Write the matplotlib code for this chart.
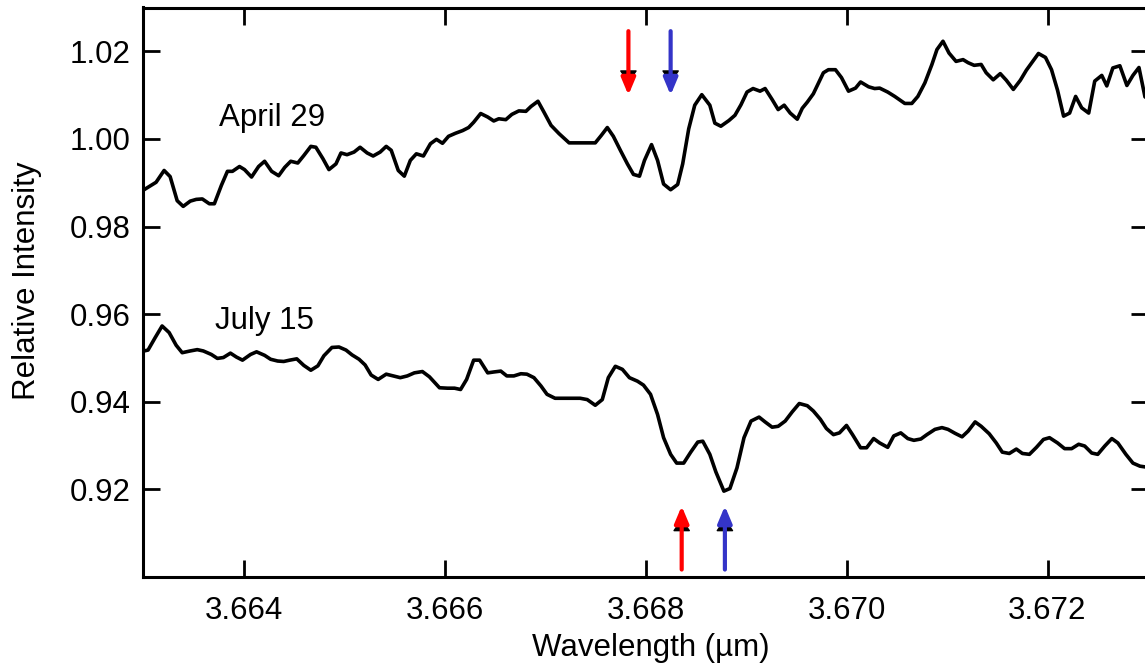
import matplotlib
matplotlib.use("Agg")
import matplotlib.pyplot as plt

plt.rcParams['font.family'] = ['Liberation Sans', 'DejaVu Sans']

# April 29 spectrum
apr_wl = [3.66301, 3.66313, 3.66321, 3.66327, 3.66334, 3.66340, 3.66347, 3.66353, 3.66359, 3.66366,
          3.66371, 3.66378, 3.66384, 3.66389, 3.66396, 3.66401, 3.66408, 3.66415, 3.66421, 3.66428,
          3.66435, 3.66441, 3.66447, 3.66454, 3.66460, 3.66467, 3.66472, 3.66479, 3.66485, 3.66492,
          3.66497, 3.66503, 3.66510, 3.66516, 3.66523, 3.66529, 3.66536, 3.66542, 3.66547, 3.66554,
          3.66560, 3.66566, 3.66572, 3.66579, 3.66586, 3.66592, 3.66598, 3.66604, 3.66611, 3.66618,
          3.66624, 3.66629, 3.66636, 3.66643, 3.66649, 3.66654, 3.66661, 3.66667, 3.66674, 3.66681,
          3.66686, 3.66693, 3.66699, 3.66706, 3.66714, 3.66724, 3.66735, 3.66750, 3.66756, 3.66762,
          3.66768, 3.66775, 3.66782, 3.66788, 3.66794, 3.66799, 3.66806, 3.66812, 3.66818, 3.66825,
          3.66832, 3.66837, 3.66843, 3.66849, 3.66856, 3.66864, 3.66869, 3.66875, 3.66883, 3.66889,
          3.66895, 3.66901, 3.66907, 3.66914, 3.66919, 3.66926, 3.66932, 3.66938, 3.66944, 3.66951,
          3.66956, 3.66961, 3.66967, 3.66977, 3.66982, 3.66989, 3.66995, 3.67002, 3.67009, 3.67014,
          3.67022, 3.67028, 3.67033, 3.67041, 3.67048, 3.67058, 3.67065, 3.67071, 3.67078, 3.67085,
          3.67090, 3.67096, 3.67102, 3.67109, 3.67116, 3.67121, 3.67127, 3.67134, 3.67139, 3.67146,
          3.67153, 3.67159, 3.67166, 3.67173, 3.67179, 3.67185, 3.67191, 3.67198, 3.67204, 3.67210,
          3.67216, 3.67222, 3.67228, 3.67234, 3.67241, 3.67247, 3.67254, 3.67259, 3.67265, 3.67272,
          3.67279, 3.67285, 3.67291, 3.67297, 3.67303]
apr_int = [0.9884, 0.9901, 0.9928, 0.9914, 0.9859, 0.9846, 0.9858, 0.9862, 0.9863, 0.9852,
           0.9852, 0.9894, 0.9926, 0.9926, 0.9937, 0.9930, 0.9913, 0.9937, 0.9949, 0.9926,
           0.9916, 0.9935, 0.9949, 0.9945, 0.9962, 0.9983, 0.9981, 0.9955, 0.9930, 0.9943,
           0.9968, 0.9964, 0.9970, 0.9981, 0.9968, 0.9961, 0.9970, 0.9983, 0.9974, 0.9928,
           0.9915, 0.9951, 0.9966, 0.9961, 0.9989, 0.9999, 0.9990, 1.0006, 1.0013, 1.0019,
           1.0026, 1.0038, 1.0058, 1.0050, 1.0041, 1.0046, 1.0044, 1.0056, 1.0064, 1.0063,
           1.0074, 1.0086, 1.0061, 1.0031, 1.0012, 0.9991, 0.9991, 0.9991, 1.0008, 1.0026,
           1.0006, 0.9974, 0.9943, 0.9919, 0.9915, 0.9951, 0.9987, 0.9951, 0.9897, 0.9884,
           0.9896, 0.9943, 1.0023, 1.0077, 1.0101, 1.0077, 1.0036, 1.0029, 1.0042, 1.0054,
           1.0078, 1.0107, 1.0115, 1.0109, 1.0115, 1.0090, 1.0067, 1.0077, 1.0059, 1.0045,
           1.0070, 1.0084, 1.0103, 1.0151, 1.0158, 1.0158, 1.0140, 1.0109, 1.0116, 1.0130,
           1.0119, 1.0115, 1.0116, 1.0107, 1.0097, 1.0081, 1.0081, 1.0097, 1.0128, 1.0170,
           1.0204, 1.0223, 1.0196, 1.0177, 1.0181, 1.0174, 1.0168, 1.0170, 1.0151, 1.0135,
           1.0149, 1.0134, 1.0113, 1.0134, 1.0157, 1.0176, 1.0195, 1.0186, 1.0158, 1.0111,
           1.0052, 1.0059, 1.0097, 1.0071, 1.0059, 1.0132, 1.0145, 1.0121, 1.0162, 1.0167,
           1.0122, 1.0145, 1.0163, 1.0096, 1.0088]

# July 15 spectrum
jul_wl = [3.66301, 3.66305, 3.66312, 3.66319, 3.66326, 3.66333, 3.66339, 3.66347, 3.66354, 3.66360,
          3.66368, 3.66374, 3.66380, 3.66387, 3.66393, 3.66399, 3.66407, 3.66413, 3.66421, 3.66427,
          3.66434, 3.66440, 3.66446, 3.66453, 3.66460, 3.66467, 3.66474, 3.66480, 3.66488, 3.66495,
          3.66502, 3.66508, 3.66515, 3.66521, 3.66527, 3.66534, 3.66542, 3.66549, 3.66556, 3.66563,
          3.66570, 3.66578, 3.66585, 3.66595, 3.66603, 3.66610, 3.66616, 3.66622, 3.66629, 3.66635,
          3.66643, 3.66649, 3.66656, 3.66662, 3.66669, 3.66676, 3.66682, 3.66689, 3.66696, 3.66702,
          3.66710, 3.66722, 3.66735, 3.66742, 3.66750, 3.66757, 3.66763, 3.66770, 3.66777, 3.66784,
          3.66792, 3.66798, 3.66805, 3.66812, 3.66818, 3.66825, 3.66831, 3.66838, 3.66845, 3.66852,
          3.66857, 3.66864, 3.66870, 3.66878, 3.66884, 3.66891, 3.66898, 3.66905, 3.66913, 3.66919,
          3.66926, 3.66932, 3.66939, 3.66946, 3.66953, 3.66961, 3.66967, 3.66974, 3.66980, 3.66987,
          3.66993, 3.67000, 3.67006, 3.67014, 3.67020, 3.67027, 3.67033, 3.67041, 3.67047, 3.67054,
          3.67061, 3.67067, 3.67074, 3.67080, 3.67088, 3.67095, 3.67101, 3.67108, 3.67115, 3.67121,
          3.67128, 3.67134, 3.67142, 3.67149, 3.67155, 3.67162, 3.67169, 3.67175, 3.67182, 3.67189,
          3.67196, 3.67202, 3.67210, 3.67217, 3.67224, 3.67231, 3.67237, 3.67244, 3.67250, 3.67257,
          3.67264, 3.67270, 3.67278, 3.67285, 3.67292, 3.67298, 3.67304]
jul_int = [0.9516, 0.9518, 0.9546, 0.9573, 0.9558, 0.9529, 0.9512, 0.9516, 0.9519, 0.9516,
           0.9508, 0.9499, 0.9501, 0.9511, 0.9502, 0.9495, 0.9508, 0.9514, 0.9506, 0.9497,
           0.9493, 0.9492, 0.9495, 0.9498, 0.9483, 0.9472, 0.9482, 0.9505, 0.9524, 0.9525,
           0.9518, 0.9507, 0.9497, 0.9484, 0.9461, 0.9451, 0.9463, 0.9459, 0.9455, 0.9459,
           0.9466, 0.9469, 0.9457, 0.9432, 0.9431, 0.9431, 0.9428, 0.9451, 0.9495, 0.9495,
           0.9466, 0.9468, 0.9470, 0.9459, 0.9459, 0.9464, 0.9463, 0.9455, 0.9436, 0.9417,
           0.9408, 0.9408, 0.9408, 0.9405, 0.9392, 0.9405, 0.9455, 0.9481, 0.9474, 0.9455,
           0.9447, 0.9438, 0.9417, 0.9371, 0.9318, 0.9280, 0.9260, 0.9260, 0.9285, 0.9308,
           0.9310, 0.9280, 0.9240, 0.9196, 0.9202, 0.9249, 0.9318, 0.9356, 0.9365, 0.9354,
           0.9342, 0.9344, 0.9356, 0.9377, 0.9396, 0.9391, 0.9379, 0.9360, 0.9339, 0.9325,
           0.9329, 0.9346, 0.9325, 0.9295, 0.9295, 0.9316, 0.9306, 0.9296, 0.9322, 0.9329,
           0.9316, 0.9312, 0.9315, 0.9325, 0.9337, 0.9341, 0.9337, 0.9328, 0.9320, 0.9333,
           0.9354, 0.9344, 0.9327, 0.9306, 0.9285, 0.9282, 0.9292, 0.9282, 0.9280, 0.9296,
           0.9314, 0.9318, 0.9306, 0.9293, 0.9293, 0.9303, 0.9299, 0.9283, 0.9280, 0.9299,
           0.9316, 0.9306, 0.9280, 0.9260, 0.9253, 0.9251, 0.9248]

series_labels = ["April 29", "July 15"]
xticks = [3.664, 3.666, 3.668, 3.670, 3.672]
xtick_labels = ["3.664", "3.666", "3.668", "3.670", "3.672"]
yticks = [0.92, 0.94, 0.96, 0.98, 1.00, 1.02]
ytick_labels = ["0.92", "0.94", "0.96", "0.98", "1.00", "1.02"]

# marker arrows (wavelengths)
top_arrow_x = [3.66783, 3.66825]
bottom_arrow_x = [3.66836, 3.66879]
arrow_colors = ["#ff0000", "#3434c8"]

FS = 22.5

fig = plt.figure(figsize=(11.45, 6.69), dpi=100)
ax = fig.add_axes([143/1145, (669-577)/669, (1148-143)/1145, (577-7.5)/669])

ax.plot(apr_wl, apr_int, color="black", lw=2.6, solid_joinstyle="round")
ax.plot(jul_wl, jul_int, color="black", lw=2.6, solid_joinstyle="round")

ax.set_xlim(3.663, 3.673)
ax.set_ylim(0.900, 1.030)
ax.set_xticks(xticks)
ax.set_xticklabels(xtick_labels)
ax.set_yticks(yticks)
ax.set_yticklabels(ytick_labels)

ax.tick_params(direction="in", length=12, width=2.0, labelsize=FS,
               top=True, right=True, colors="black")
ax.tick_params(axis="x", pad=14)
ax.tick_params(axis="y", pad=9)
for s in ax.spines.values():
    s.set_linewidth(2.2)

ax.set_xlabel("Wavelength (\u00b5m)", fontsize=FS)
ax.xaxis.set_label_coords(0.5055, -0.098)
ax.xaxis.label.set_va("top")
ax.set_ylabel("Relative Intensity", fontsize=FS)
ax.yaxis.set_label_coords(-0.1154, 0.52)
ax.yaxis.label.set_va("center")
ax.yaxis.label.set_ha("center")

ax.text(3.66376, 1.00293, series_labels[0], fontsize=FS, ha="left", va="baseline")
ax.text(3.66372, 0.95657, series_labels[1], fontsize=FS, ha="left", va="baseline")

black_head = dict(arrowstyle="-|>,head_length=0.8,head_width=0.55", mutation_scale=10,
                  color="black", lw=1, shrinkA=0, shrinkB=0)
# top arrows (pointing down)
for x, c in zip(top_arrow_x, arrow_colors):
    ax.annotate("", xy=(x, 1.0127), xytext=(x, 1.0180), arrowprops=black_head)
    ax.annotate("", xy=(x, 1.0100), xytext=(x, 1.0246),
                arrowprops=dict(arrowstyle="-|>,head_length=1.0,head_width=0.42",
                                mutation_scale=10, color=c, lw=3, shrinkA=0, shrinkB=0))
# bottom arrows (pointing up)
for x, c in zip(bottom_arrow_x, arrow_colors):
    ax.annotate("", xy=(x, 0.9134), xytext=(x, 0.9080), arrowprops=black_head)
    ax.annotate("", xy=(x, 0.9162), xytext=(x, 0.9017),
                arrowprops=dict(arrowstyle="-|>,head_length=1.0,head_width=0.42",
                                mutation_scale=10, color=c, lw=3, shrinkA=0, shrinkB=0))

fig.savefig("out.png", dpi=100)
